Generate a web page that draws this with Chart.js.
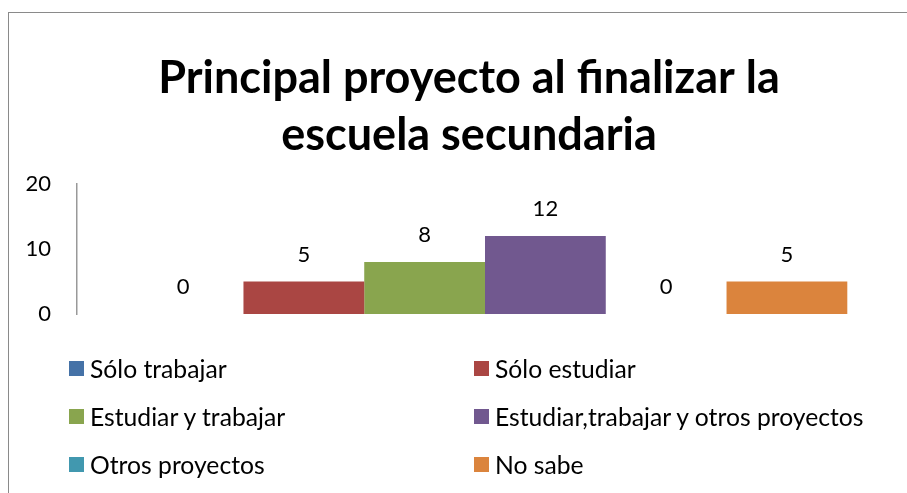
<!DOCTYPE html>
<html>
<head>
<meta charset="utf-8">
<script src="https://cdn.jsdelivr.net/npm/chart.js@4.4.1/dist/chart.umd.min.js"></script>
<style>
  html, body { margin: 0; padding: 0; background: #fff; overflow: hidden; }
  body { width: 907px; height: 493px; position: relative; font-family: Lato, "Open Sans", sans-serif; }
  #frame { position: absolute; left: 8px; top: 12px; width: 960px; height: 520px;
           border-left: 1px solid #8a8a8a; border-top: 1px solid #8a8a8a; }
  #box { position: absolute; left: 0; top: 0; width: 938px; height: 493px; }
  #legend { position: absolute; left: 69px; top: 356px; width: 838px;
            display: grid; grid-template-columns: 405px 405px; row-gap: 24px; }
  .item { display: flex; align-items: center; height: 24px; font-size: 24.7px; color: #000; white-space: nowrap; }
  .sw { width: 15px; height: 15px; margin-right: 6px; flex: none; }
</style>
</head>
<body>
<div id="frame"></div>
<div id="box"><canvas id="chart"></canvas></div>
<div id="legend"></div>
<script>
var seriesNames = ["Sólo trabajar", "Sólo estudiar", "Estudiar y trabajar",
  "Estudiar,trabajar y otros proyectos", "Otros proyectos", "No sabe"];
var seriesValues = [0, 5, 8, 12, 0, 5];
var colors = ["#4572A7", "#AA4643", "#89A54E", "#71588F", "#4198AF", "#DB843D"];
var yTicks = [0, 10, 20];
var titleLines = ["Principal proyecto al finalizar la", "escuela secundaria"];

var datasets = seriesNames.map(function (name, i) {
  return {
    label: name,
    data: [seriesValues[i]],
    backgroundColor: colors[i],
    borderWidth: 0,
    barPercentage: 1,
    categoryPercentage: 0.888
  };
});

// value labels above each bar
var valueLabels = {
  id: 'valueLabels',
  afterDatasetsDraw: function (chart) {
    var ctx = chart.ctx;
    ctx.save();
    ctx.font = '22px Lato';
    ctx.fillStyle = '#000';
    ctx.textAlign = 'center';
    ctx.textBaseline = 'middle';
    chart.data.datasets.forEach(function (ds, i) {
      var meta = chart.getDatasetMeta(i);
      meta.data.forEach(function (bar, j) {
        ctx.fillText(ds.data[j], bar.x, bar.y - 27);
      });
    });
    ctx.restore();
  }
};

new Chart(document.getElementById("chart").getContext("2d"), {
  type: 'bar',
  data: { labels: [''], datasets: datasets },
  options: {
    responsive: true,
    maintainAspectRatio: false,
    animation: false,
    layout: { padding: { left: 24, right: 24, top: 0, bottom: 179 } },
    plugins: {
      legend: { display: false },
      tooltip: { enabled: false },
      title: {
        display: true,
        text: titleLines,
        color: '#000',
        font: { family: 'Lato', size: 45, weight: 'bold', lineHeight: 1.267 },
        padding: { top: 50, bottom: 20 }
      }
    },
    scales: {
      x: { display: false },
      y: {
        min: 0, max: 20,
        afterBuildTicks: function (axis) {
          axis.ticks = yTicks.map(function (v) { return { value: v }; });
        },
        afterFit: function (axis) { axis.width = 53; },
        grid: { display: false, drawTicks: false },
        border: { display: true, color: '#999', width: 1.5 },
        ticks: { color: '#000', font: { family: 'Lato', size: 22 }, padding: 26 }
      },
      // empty spacer on the right so the title stays centred on the whole frame
      spacer: {
        type: 'linear',
        position: 'right',
        display: true,
        afterFit: function (axis) { axis.width = 21; },
        grid: { display: false, drawTicks: false },
        border: { display: false },
        ticks: { display: false }
      }
    }
  },
  plugins: [valueLabels]
});

var legend = document.getElementById('legend');
seriesNames.forEach(function (name, i) {
  var el = document.createElement('div');
  el.className = 'item';
  el.innerHTML = '<span class="sw" style="background:' + colors[i] + '"></span><span>' + name + '</span>';
  legend.appendChild(el);
});
</script>
</body>
</html>
